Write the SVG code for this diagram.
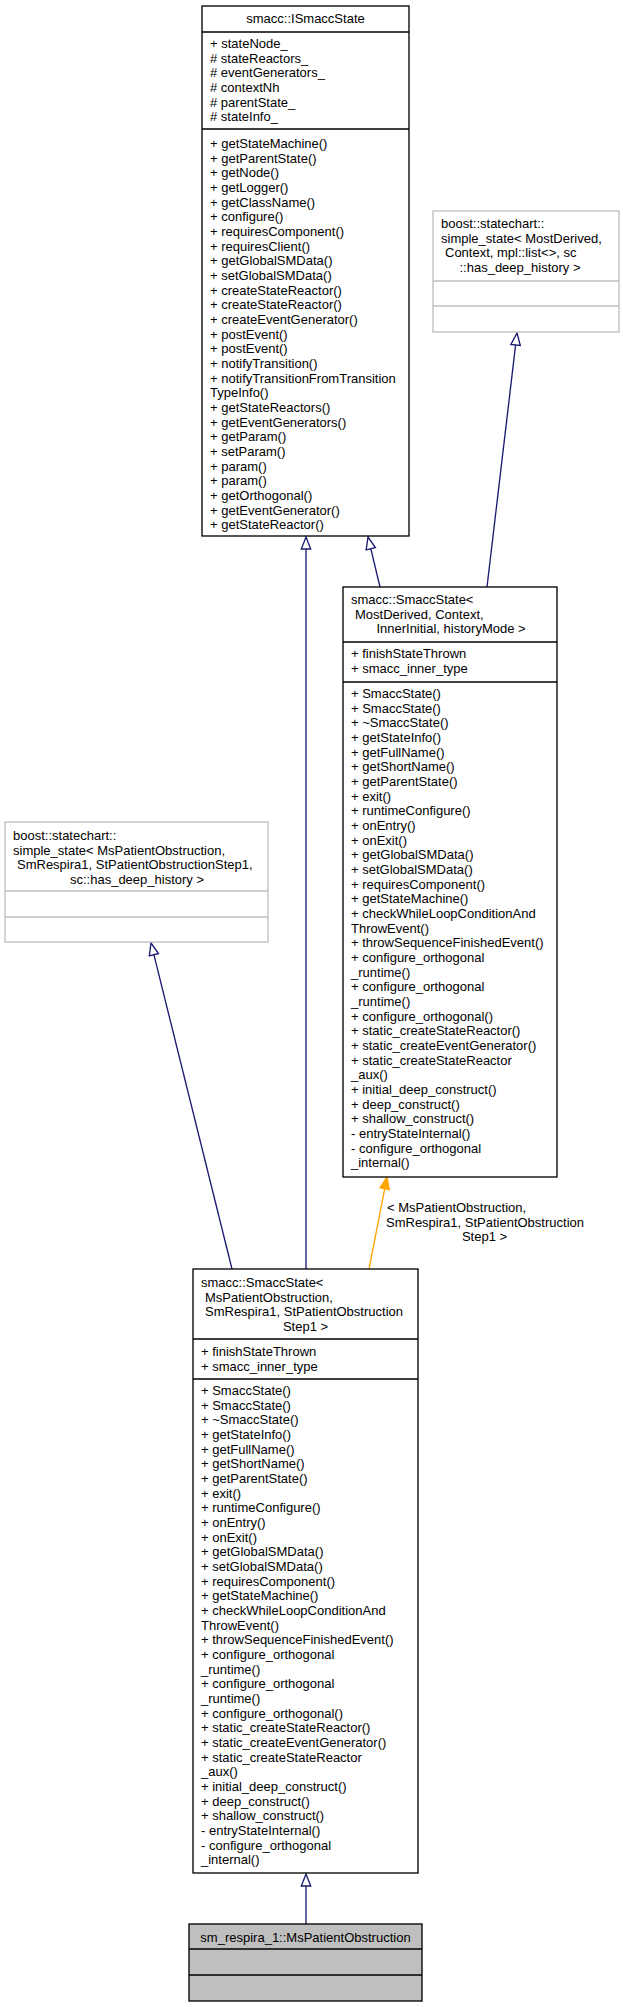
<svg xmlns="http://www.w3.org/2000/svg" width="623" height="2007" viewBox="0 0 623 2007">
<style>
text{font-family:"Liberation Sans",Arial,Helvetica,sans-serif;font-size:13px;fill:#000}
.m{text-anchor:middle}
.box{fill:#fff;stroke:#000;stroke-width:1.33}
.gbox{fill:#fff;stroke:#bfbfbf;stroke-width:1.33}
.fbox{fill:#bfbfbf;stroke:#000;stroke-width:1.33}
.sep{stroke:#000;stroke-width:1.33}
.gsep{stroke:#bfbfbf;stroke-width:1.33}
.e{fill:none;stroke:#191970;stroke-width:1.33}
.ah{fill:#fff;stroke:#191970;stroke-width:1.33}
.eo{fill:none;stroke:#ffa500;stroke-width:1.33}
.aho{fill:#ffa500;stroke:#ffa500;stroke-width:1.33}
</style>
<rect width="623" height="2007" fill="#fff"/>
<g id="connectors">
<line class="e" x1="306" y1="549" x2="306" y2="1269"/>
<polygon class="ah" points="306,537 310.7,549 301.3,549"/>
<line class="e" x1="370.8" y1="548.7" x2="380" y2="587"/>
<polygon class="ah" points="368,537 375.4,547.6 366.2,549.8"/>
<line class="e" x1="515.6" y1="344.9" x2="487" y2="587"/>
<polygon class="ah" points="517,333 520.3,345.5 510.9,344.4"/>
<line class="e" x1="153.9" y1="954.7" x2="232" y2="1269"/>
<polygon class="ah" points="151,943 158.5,953.5 149.3,955.8"/>
<line class="eo" x1="384.7" y1="1188.8" x2="369" y2="1269"/>
<polygon class="aho" points="387,1177 389.3,1189.7 380.1,1187.9"/>
<text x="387" y="1211.5">&lt; MsPatientObstruction,</text>
<text x="386" y="1226.5">SmRespira1, StPatientObstruction</text>
<text class="m" x="484.5" y="1241">Step1 &gt;</text>
<line class="e" x1="306" y1="1886" x2="306" y2="1924"/>
<polygon class="ah" points="306,1874 310.7,1886 301.3,1886"/>
</g>
<g id="ISmaccState">
<rect class="box" x="202" y="6" width="207" height="530"/>
<text class="m" x="305.5" y="23">smacc::ISmaccState</text>
<line class="sep" x1="202" y1="32" x2="409" y2="32"/>
<text x="210" y="48"><tspan x="210">+ stateNode_</tspan><tspan x="210" dy="14.67"># stateReactors_</tspan><tspan x="210" dy="14.67"># eventGenerators_</tspan><tspan x="210" dy="14.67"># contextNh</tspan><tspan x="210" dy="14.67"># parentState_</tspan><tspan x="210" dy="14.67"># stateInfo_</tspan></text>
<line class="sep" x1="202" y1="129" x2="409" y2="129"/>
<text x="210" y="148"><tspan x="210">+ getStateMachine()</tspan><tspan x="210" dy="14.67">+ getParentState()</tspan><tspan x="210" dy="14.67">+ getNode()</tspan><tspan x="210" dy="14.67">+ getLogger()</tspan><tspan x="210" dy="14.67">+ getClassName()</tspan><tspan x="210" dy="14.67">+ configure()</tspan><tspan x="210" dy="14.67">+ requiresComponent()</tspan><tspan x="210" dy="14.67">+ requiresClient()</tspan><tspan x="210" dy="14.67">+ getGlobalSMData()</tspan><tspan x="210" dy="14.67">+ setGlobalSMData()</tspan><tspan x="210" dy="14.67">+ createStateReactor()</tspan><tspan x="210" dy="14.67">+ createStateReactor()</tspan><tspan x="210" dy="14.67">+ createEventGenerator()</tspan><tspan x="210" dy="14.67">+ postEvent()</tspan><tspan x="210" dy="14.67">+ postEvent()</tspan><tspan x="210" dy="14.67">+ notifyTransition()</tspan><tspan x="210" dy="14.67">+ notifyTransitionFromTransition</tspan><tspan x="210" dy="14.67">TypeInfo()</tspan><tspan x="210" dy="14.67">+ getStateReactors()</tspan><tspan x="210" dy="14.67">+ getEventGenerators()</tspan><tspan x="210" dy="14.67">+ getParam()</tspan><tspan x="210" dy="14.67">+ setParam()</tspan><tspan x="210" dy="14.67">+ param()</tspan><tspan x="210" dy="14.67">+ param()</tspan><tspan x="210" dy="14.67">+ getOrthogonal()</tspan><tspan x="210" dy="14.67">+ getEventGenerator()</tspan><tspan x="210" dy="14.67">+ getStateReactor()</tspan></text>
</g>
<g id="SimpleStateGeneric">
<rect class="gbox" x="433" y="211" width="186" height="121"/>
<text x="441" y="228">boost::statechart::</text>
<text x="441" y="242.7">simple_state&lt; MostDerived,</text>
<text x="445" y="257.3">Context, mpl::list&lt;&gt;, sc</text>
<text class="m" x="520" y="272">::has_deep_history &gt;</text>
<line class="gsep" x1="433" y1="281" x2="619" y2="281"/>
<line class="gsep" x1="433" y1="306" x2="619" y2="306"/>
</g>
<g id="SmaccStateGeneric">
<rect class="box" x="343" y="587" width="214" height="590"/>
<text x="351" y="604">smacc::SmaccState&lt;</text>
<text x="355" y="618.7">MostDerived, Context,</text>
<text class="m" x="451" y="633.3">InnerInitial, historyMode &gt;</text>
<line class="sep" x1="343" y1="642" x2="557" y2="642"/>
<text x="351" y="658"><tspan x="351">+ finishStateThrown</tspan><tspan x="351" dy="14.67">+ smacc_inner_type</tspan></text>
<line class="sep" x1="343" y1="682" x2="557" y2="682"/>
<text x="351" y="698"><tspan x="351">+ SmaccState()</tspan><tspan x="351" dy="14.67">+ SmaccState()</tspan><tspan x="351" dy="14.67">+ ~SmaccState()</tspan><tspan x="351" dy="14.67">+ getStateInfo()</tspan><tspan x="351" dy="14.67">+ getFullName()</tspan><tspan x="351" dy="14.67">+ getShortName()</tspan><tspan x="351" dy="14.67">+ getParentState()</tspan><tspan x="351" dy="14.67">+ exit()</tspan><tspan x="351" dy="14.67">+ runtimeConfigure()</tspan><tspan x="351" dy="14.67">+ onEntry()</tspan><tspan x="351" dy="14.67">+ onExit()</tspan><tspan x="351" dy="14.67">+ getGlobalSMData()</tspan><tspan x="351" dy="14.67">+ setGlobalSMData()</tspan><tspan x="351" dy="14.67">+ requiresComponent()</tspan><tspan x="351" dy="14.67">+ getStateMachine()</tspan><tspan x="351" dy="14.67">+ checkWhileLoopConditionAnd</tspan><tspan x="351" dy="14.67">ThrowEvent()</tspan><tspan x="351" dy="14.67">+ throwSequenceFinishedEvent()</tspan><tspan x="351" dy="14.67">+ configure_orthogonal</tspan><tspan x="351" dy="14.67">_runtime()</tspan><tspan x="351" dy="14.67">+ configure_orthogonal</tspan><tspan x="351" dy="14.67">_runtime()</tspan><tspan x="351" dy="14.67">+ configure_orthogonal()</tspan><tspan x="351" dy="14.67">+ static_createStateReactor()</tspan><tspan x="351" dy="14.67">+ static_createEventGenerator()</tspan><tspan x="351" dy="14.67">+ static_createStateReactor</tspan><tspan x="351" dy="14.67">_aux()</tspan><tspan x="351" dy="14.67">+ initial_deep_construct()</tspan><tspan x="351" dy="14.67">+ deep_construct()</tspan><tspan x="351" dy="14.67">+ shallow_construct()</tspan><tspan x="351" dy="14.67">- entryStateInternal()</tspan><tspan x="351" dy="14.67">- configure_orthogonal</tspan><tspan x="351" dy="14.67">_internal()</tspan></text>
</g>
<g id="SimpleStateMsPatient">
<rect class="gbox" x="5" y="822" width="263" height="120"/>
<text x="13" y="840">boost::statechart::</text>
<text x="13" y="854.7">simple_state&lt; MsPatientObstruction,</text>
<text x="17" y="869.3">SmRespira1, StPatientObstructionStep1,</text>
<text class="m" x="137" y="884">sc::has_deep_history &gt;</text>
<line class="gsep" x1="5" y1="891" x2="268" y2="891"/>
<line class="gsep" x1="5" y1="917" x2="268" y2="917"/>
</g>
<g id="SmaccStateMsPatient">
<rect class="box" x="193" y="1269" width="225" height="604"/>
<text x="201" y="1287">smacc::SmaccState&lt;</text>
<text x="205" y="1301.7">MsPatientObstruction,</text>
<text x="205" y="1316.3">SmRespira1, StPatientObstruction</text>
<text class="m" x="305.5" y="1331">Step1 &gt;</text>
<line class="sep" x1="193" y1="1339" x2="418" y2="1339"/>
<text x="201" y="1356"><tspan x="201">+ finishStateThrown</tspan><tspan x="201" dy="14.67">+ smacc_inner_type</tspan></text>
<line class="sep" x1="193" y1="1379" x2="418" y2="1379"/>
<text x="201" y="1395"><tspan x="201">+ SmaccState()</tspan><tspan x="201" dy="14.67">+ SmaccState()</tspan><tspan x="201" dy="14.67">+ ~SmaccState()</tspan><tspan x="201" dy="14.67">+ getStateInfo()</tspan><tspan x="201" dy="14.67">+ getFullName()</tspan><tspan x="201" dy="14.67">+ getShortName()</tspan><tspan x="201" dy="14.67">+ getParentState()</tspan><tspan x="201" dy="14.67">+ exit()</tspan><tspan x="201" dy="14.67">+ runtimeConfigure()</tspan><tspan x="201" dy="14.67">+ onEntry()</tspan><tspan x="201" dy="14.67">+ onExit()</tspan><tspan x="201" dy="14.67">+ getGlobalSMData()</tspan><tspan x="201" dy="14.67">+ setGlobalSMData()</tspan><tspan x="201" dy="14.67">+ requiresComponent()</tspan><tspan x="201" dy="14.67">+ getStateMachine()</tspan><tspan x="201" dy="14.67">+ checkWhileLoopConditionAnd</tspan><tspan x="201" dy="14.67">ThrowEvent()</tspan><tspan x="201" dy="14.67">+ throwSequenceFinishedEvent()</tspan><tspan x="201" dy="14.67">+ configure_orthogonal</tspan><tspan x="201" dy="14.67">_runtime()</tspan><tspan x="201" dy="14.67">+ configure_orthogonal</tspan><tspan x="201" dy="14.67">_runtime()</tspan><tspan x="201" dy="14.67">+ configure_orthogonal()</tspan><tspan x="201" dy="14.67">+ static_createStateReactor()</tspan><tspan x="201" dy="14.67">+ static_createEventGenerator()</tspan><tspan x="201" dy="14.67">+ static_createStateReactor</tspan><tspan x="201" dy="14.67">_aux()</tspan><tspan x="201" dy="14.67">+ initial_deep_construct()</tspan><tspan x="201" dy="14.67">+ deep_construct()</tspan><tspan x="201" dy="14.67">+ shallow_construct()</tspan><tspan x="201" dy="14.67">- entryStateInternal()</tspan><tspan x="201" dy="14.67">- configure_orthogonal</tspan><tspan x="201" dy="14.67">_internal()</tspan></text>
</g>
<g id="MsPatientObstruction">
<rect class="fbox" x="189" y="1924" width="233" height="77"/>
<text class="m" x="305.5" y="1942">sm_respira_1::MsPatientObstruction</text>
<line class="sep" x1="189" y1="1949" x2="422" y2="1949"/>
<line class="sep" x1="189" y1="1975" x2="422" y2="1975"/>
</g>
</svg>
